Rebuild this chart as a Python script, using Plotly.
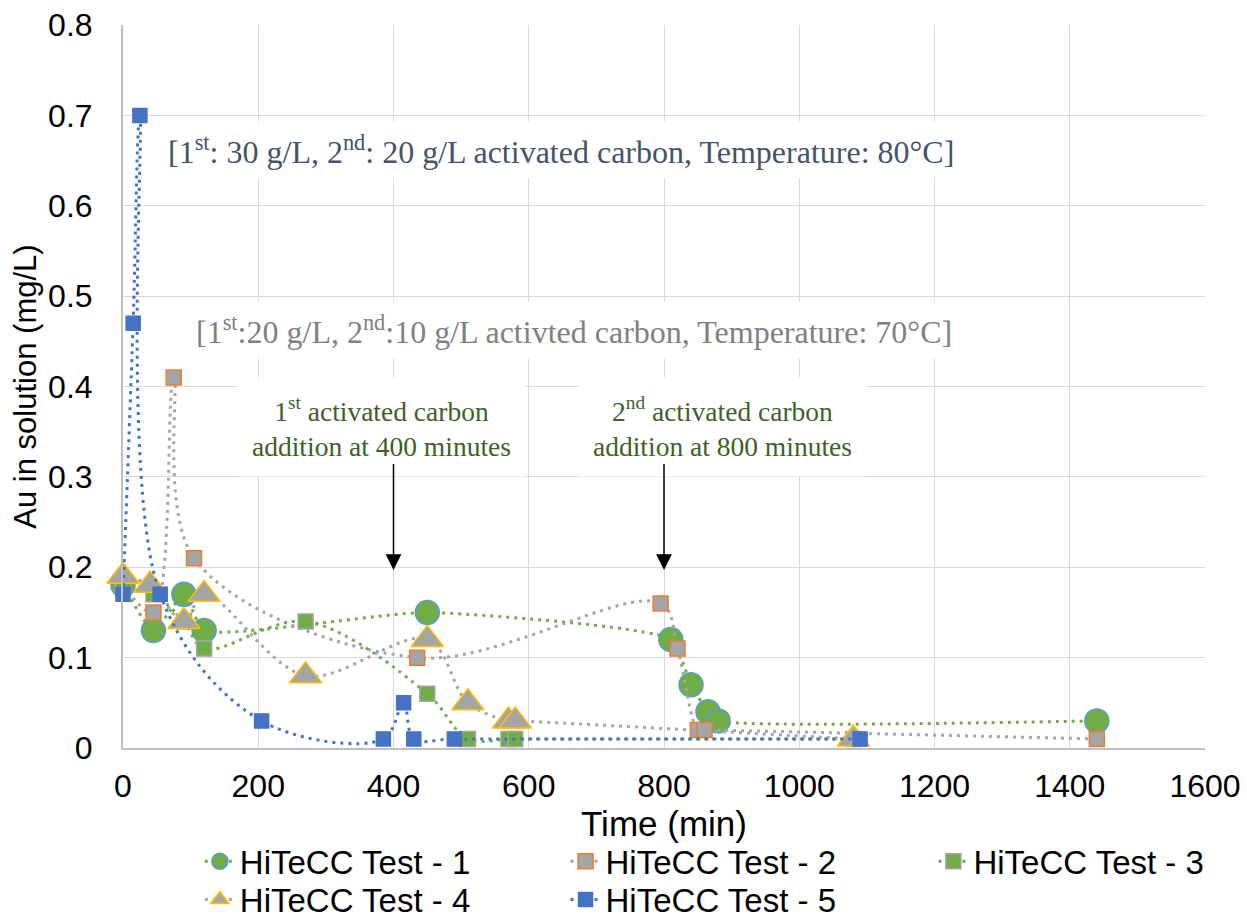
import plotly.graph_objects as go

# Sampling times (min) and Au concentration (mg/L) for each HiTeCC test
t1_time = [0, 45, 90, 120, 450, 810, 840, 865, 880, 1440]
t1_au = [0.18, 0.13, 0.17, 0.13, 0.15, 0.12, 0.07, 0.04, 0.03, 0.03]

t2_time = [0, 45, 75, 105, 435, 795, 820, 850, 860, 1440]
t2_au = [0.18, 0.15, 0.41, 0.21, 0.10, 0.16, 0.11, 0.02, 0.02, 0.01]

t3_time = [0, 45, 90, 120, 270, 450, 510, 570, 580, 1080]
t3_au = [0.18, 0.17, 0.14, 0.11, 0.14, 0.06, 0.01, 0.01, 0.01, 0.01]

t4_time = [0, 40, 90, 120, 270, 450, 510, 570, 580, 1080]
t4_au = [0.19, 0.18, 0.14, 0.17, 0.08, 0.12, 0.05, 0.03, 0.03, 0.01]

t5_time = [0, 15, 25, 55, 205, 385, 415, 430, 490, 1090]
t5_au = [0.17, 0.47, 0.70, 0.17, 0.03, 0.01, 0.05, 0.01, 0.01, 0.01]

series_names = ["HiTeCC Test - 1", "HiTeCC Test - 2", "HiTeCC Test - 3",
                "HiTeCC Test - 4", "HiTeCC Test - 5"]

x_ticks = [0, 200, 400, 600, 800, 1000, 1200, 1400, 1600]
y_ticks = [0, 0.1, 0.2, 0.3, 0.4, 0.5, 0.6, 0.7, 0.8]

GREEN = "#70AD47"
GREY = "#A5A5A5"
BLUE = "#4472C4"
DOTS = "3px,5px"

styles = [
    dict(line_color=GREEN, symbol="circle", size=24, fill=GREEN, edge="#5B9BD5", smooth=0.5),
    dict(line_color=GREY, symbol="square", size=15, fill=GREY, edge="#ED7D31", smooth=1.0),
    dict(line_color=GREEN, symbol="square", size=15, fill=GREEN, edge=GREY, smooth=1.0),
    dict(line_color=GREY, symbol="triangle-up", size=28, fill=GREY, edge="#FFC000", smooth=1.0),
    dict(line_color=BLUE, symbol="square", size=14, fill=BLUE, edge=BLUE, smooth=1.0),
]
data = [(t1_time, t1_au), (t2_time, t2_au), (t3_time, t3_au),
        (t4_time, t4_au), (t5_time, t5_au)]
legend_ids = ["legend", "legend2", "legend3", "legend4", "legend5"]

fig = go.Figure()
for (xs, ys), name, st, lg in zip(data, series_names, styles, legend_ids):
    fig.add_trace(go.Scatter(
        x=xs, y=ys, name=name, mode="lines+markers",
        line=dict(color=st["line_color"], width=3, dash=DOTS,
                  shape="spline", smoothing=st["smooth"]),
        marker=dict(symbol=st["symbol"], size=st["size"], color=st["fill"],
                    line=dict(color=st["edge"], width=1.5)),
        cliponaxis=False, legend=lg,
    ))

FONT = "Liberation Sans, Arial, sans-serif"
SERIF = "Liberation Serif, Times New Roman, serif"

annotations = [
    dict(x=647, y=0.662,
         text="[1<sup>st</sup>: 30 g/L, 2<sup>nd</sup>: 20 g/L activated carbon, Temperature: 80°C]",
         font=dict(family=SERIF, size=32, color="#44546A"), borderpad=8),
    dict(x=667, y=0.4625,
         text="[1<sup>st</sup>:20 g/L, 2<sup>nd</sup>:10 g/L activted carbon, Temperature: 70°C]",
         font=dict(family=SERIF, size=32, color="#808080"), borderpad=8),
    dict(x=382, y=0.355,
         text="1<sup>st</sup> activated carbon<br>addition at 400 minutes",
         font=dict(family=SERIF, size=27.5, color="#3F5F2A"), borderpad=14),
    dict(x=887, y=0.355,
         text="2<sup>nd</sup> activated carbon<br>addition at 800 minutes",
         font=dict(family=SERIF, size=27.5, color="#3F5F2A"), borderpad=14),
]
for a in annotations:
    fig.add_annotation(xref="x", yref="y", showarrow=False, bgcolor="white", **a)

# Arrows marking the two carbon additions
for xa in [400, 800]:
    fig.add_annotation(x=xa, y=0.197, ax=xa, ay=0.316, xref="x", yref="y",
                       axref="x", ayref="y", text="", showarrow=True,
                       arrowhead=2, arrowsize=2.1, arrowwidth=1.5,
                       arrowcolor="black")

legend_pos = [(0.071, -0.118), (0.409, -0.118), (0.749, -0.118),
              (0.071, -0.171), (0.409, -0.171)]
legend_layout = {}
for lg, (lx, ly) in zip(legend_ids, legend_pos):
    legend_layout[lg] = dict(x=lx, y=ly, xanchor="left", yanchor="top",
                             orientation="h", bgcolor="rgba(0,0,0,0)",
                             font=dict(family=FONT, size=33, color="black"))

fig.update_layout(
    width=1247, height=919,
    margin=dict(l=123, r=42, t=25, b=171, autoexpand=False),
    paper_bgcolor="white", plot_bgcolor="white",
    font=dict(family=FONT, size=32, color="black"),
    showlegend=True,
    **legend_layout,
)
fig.update_xaxes(
    range=[0, 1600], tickvals=x_ticks, ticktext=[str(v) for v in x_ticks],
    showgrid=True, gridcolor="#D9D9D9", gridwidth=1,
    showline=True, linecolor="#BFBFBF", linewidth=2, zeroline=False,
    ticks="", ticklabelstandoff=9, automargin=False,
    tickfont=dict(family=FONT, size=32, color="black"),
    title=dict(text="Time (min)", font=dict(family=FONT, size=35, color="black"),
               standoff=8),
)
fig.update_yaxes(
    range=[0, 0.8], tickvals=y_ticks, ticktext=["0"] + [f"{v:.1f}" for v in y_ticks[1:]],
    showgrid=True, gridcolor="#D9D9D9", gridwidth=1,
    showline=True, linecolor="#BFBFBF", linewidth=2, zeroline=False,
    ticks="", ticklabelstandoff=22, automargin=False,
    tickfont=dict(family=FONT, size=32, color="black"),
    title=dict(text="Au in solution (mg/L)",
               font=dict(family=FONT, size=31, color="black"), standoff=2),
)

fig.write_html("out.html")
